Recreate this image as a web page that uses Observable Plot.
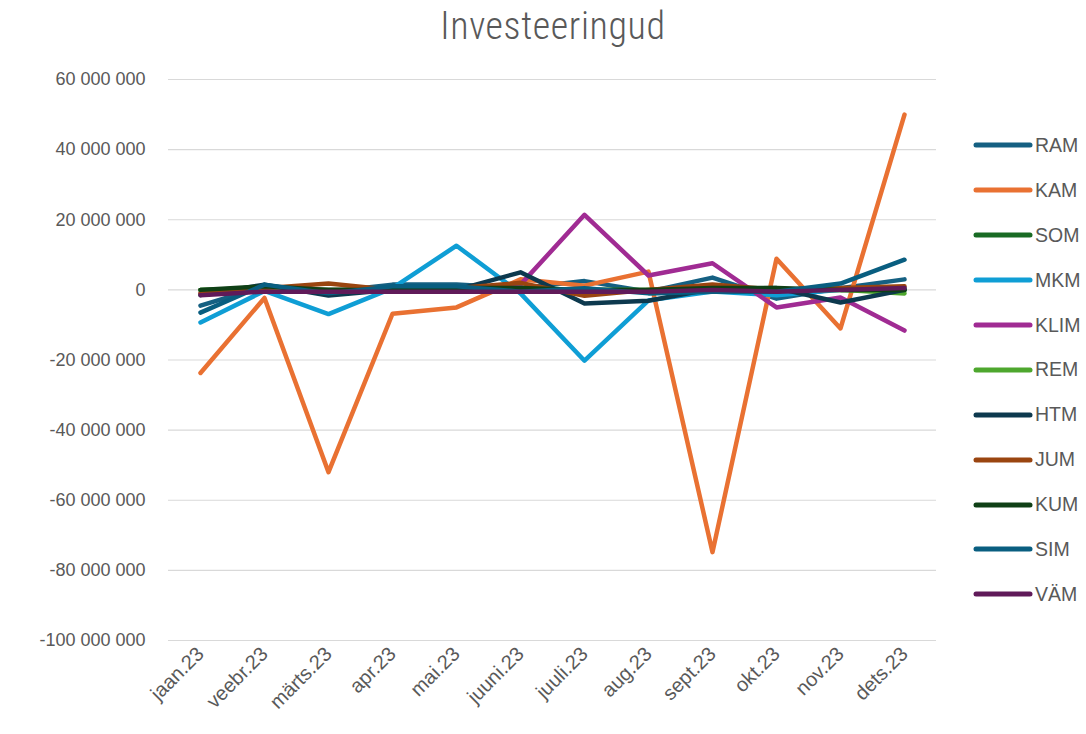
<!DOCTYPE html>
<html><head><meta charset="utf-8">
<script src="https://cdn.jsdelivr.net/npm/d3@7"></script>
<script src="https://cdn.jsdelivr.net/npm/@observablehq/plot@0.6"></script>
<style>
body{margin:0;background:#fff;}
#wrap{position:relative;width:1086px;height:734px;overflow:hidden;font-family:"Liberation Sans",Arial,sans-serif;}
#title{position:absolute;left:20px;top:4px;width:1066px;text-align:center;font-size:38px;font-weight:300;letter-spacing:0.6px;color:#595959;font-family:"Roboto Condensed","Liberation Sans Narrow",Roboto,sans-serif;}
#chart{position:absolute;left:0;top:0;}
#legend{position:absolute;left:973px;top:123px;}
.row{height:44.9px;display:flex;align-items:center;font-size:19.5px;color:#595959;}
.row svg{margin-right:2px;}
</style></head>
<body><div id="wrap"><div id="chart"></div><div id="title">Investeeringud</div><div id="legend"></div></div>
<script>
const months = ["jaan.23","veebr.23","märts.23","apr.23","mai.23","juuni.23","juuli.23","aug.23","sept.23","okt.23","nov.23","dets.23"];
const seriesNames = ["RAM","KAM","SOM","MKM","KLIM","REM","HTM","JUM","KUM","SIM","VÄM"];
const seriesColors = ["#156082","#E97132","#196B24","#0F9ED5","#A02B93","#4EA72E","#0D394E","#9A4510","#0F4016","#095E80","#601A59"];
const yTicks = [-100000000,-80000000,-60000000,-40000000,-20000000,0,20000000,40000000,60000000];

const RAM  = [-4500000, 1000000, -500000, 1500000, 1500000, 500000, 2500000, -500000, 3500000, -2500000, 500000, 3000000];
const KAM  = [-23700000, -2300000, -52000000, -6800000, -5000000, 3000000, 1200000, 5200000, -74800000, 8900000, -11000000, 50000000];
const SOM  = [0, 500000, 0, 200000, 200000, 500000, 0, 0, 200000, 0, 0, 0];
const MKM  = [-9300000, -300000, -6900000, 500000, 12600000, -1000000, -20200000, -3000000, -500000, -1500000, 0, 500000];
const KLIM = [-1000000, 0, 0, 0, 0, 1500000, 21400000, 4100000, 7600000, -5000000, -2200000, -11600000];
const REM  = [0, 0, 0, 0, 0, 500000, 0, 0, 0, 0, 0, -1000000];
const HTM  = [-1500000, 1500000, -1600000, 0, 0, 5000000, -3900000, -3100000, 300000, 500000, -3600000, 0];
const JUM  = [-1000000, 500000, 1800000, 0, 500000, 2000000, -1700000, 0, 1500000, 0, 500000, 1000000];
const KUM  = [0, 1000000, 0, 0, 500000, 500000, 0, 0, 500000, 500000, 0, 0];
const SIM  = [-6500000, 1500000, -1000000, 1000000, 1000000, -500000, 500000, -1000000, -500000, -500000, 1800000, 8600000];
const VAM  = [-1500000, -500000, -500000, -500000, -500000, -500000, -500000, -500000, 0, -500000, 0, 500000];

const seriesValues = [RAM, KAM, SOM, MKM, KLIM, REM, HTM, JUM, KUM, SIM, VAM];
const data = [];
seriesNames.forEach((s, i) => months.forEach((m, j) => data.push({series: s, month: m, value: seriesValues[i][j]})));

const loc = d3.formatLocale({thousands: " ", grouping: [3], decimal: ",", currency: ["", ""], minus: "-"});
const fmt = loc.format(",.0f");

const chart = Plot.plot({
  width: 1086, height: 734,
  marginTop: 79, marginBottom: 94, marginLeft: 168, marginRight: 150,
  style: {fontSize: "18px", color: "#595959", fontFamily: "'Liberation Sans', Arial, sans-serif", background: "transparent"},
  x: {type: "point", domain: months, padding: 0.5, label: null, tickSize: 0, tickRotate: -45, tickPadding: 10},
  y: {domain: [-100000000, 60000000], ticks: yTicks, tickFormat: fmt, label: null, tickSize: 0, tickPadding: 23},
  color: {domain: seriesNames, range: seriesColors},
  marks: [
    Plot.ruleY(yTicks, {stroke: "#d9d9d9", strokeWidth: 1.2}),
    Plot.lineY(data, {x: "month", y: "value", z: "series", stroke: "series", strokeWidth: 4.5, strokeLinejoin: "round", strokeLinecap: "round"})
  ]
});
chart.querySelectorAll('g[aria-label="x-axis tick label"] text').forEach(t => t.style.fontSize = "20px");
document.getElementById("chart").appendChild(chart);

const leg = document.getElementById("legend");
seriesNames.forEach((s, i) => {
  const row = document.createElement("div");
  row.className = "row";
  row.innerHTML = `<svg width="60" height="10"><line x1="3" y1="5" x2="57" y2="5" stroke="${seriesColors[i]}" stroke-width="5" stroke-linecap="round"/></svg><span>${s}</span>`;
  leg.appendChild(row);
});
</script></body></html>
